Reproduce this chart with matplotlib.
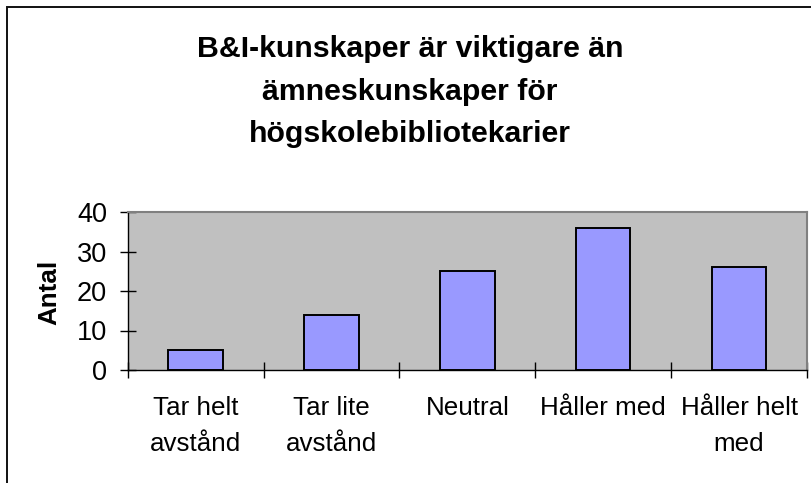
import matplotlib
matplotlib.use("Agg")
import matplotlib.pyplot as plt
from matplotlib.patches import Rectangle

plt.rcParams['font.family'] = ['Liberation Sans', 'DejaVu Sans']

categories = ["Tar helt\navstånd", "Tar lite\navstånd", "Neutral", "Håller med", "Håller helt\nmed"]
counts = [5, 14, 25, 36, 26]
yticks = [0, 10, 20, 30, 40]
title_lines = ["B&I-kunskaper är viktigare än", "ämneskunskaper för", "högskolebibliotekarier"]
ylabel = "Antal"

W, H, DPI = 812, 483, 100
fig = plt.figure(figsize=(W / DPI, H / DPI), dpi=DPI)

# chart frame (runs off the right and bottom of the canvas)
fig.patches.append(Rectangle((7 / W, -0.2), 1.5, 1.2 - 7 / H,
                             transform=fig.transFigure, fill=False,
                             edgecolor='#111111', linewidth=1.4))

ax = fig.add_axes([127.7 / W, (H - 370) / H, 679.3 / W, 158 / H])
ax.set_facecolor('#C0C0C0')

x = list(range(len(categories)))
ax.bar(x, counts, width=0.4, color='#9999FF', edgecolor='black', linewidth=1.4, zorder=3)

ax.set_xlim(-0.5, len(categories) - 0.5)
ax.set_ylim(0, 40)
ax.set_yticks(yticks)
ax.set_yticklabels([str(v) for v in yticks], fontsize=19.5)

# category ticks sit at the boundaries between groups; labels at centres
bounds = [i - 0.5 for i in range(len(categories) + 1)]
ax.set_xticks(bounds)
ax.set_xticklabels([])
ax.set_xticks(x, minor=True)
ax.set_xticklabels(categories, minor=True, fontsize=18.7, linespacing=1.6)
ax.tick_params(axis='x', which='minor', length=0, pad=19.0)
ax.tick_params(axis='x', which='major', direction='inout', length=11.5, width=1.0, color='black')
ax.tick_params(axis='y', direction='inout', length=11.5, width=1.0, color='black', pad=9.1)

for side in ('top', 'right'):
    ax.spines[side].set_color('#808080')
    ax.spines[side].set_linewidth(1.5)
for side in ('left', 'bottom'):
    ax.spines[side].set_color('black')
    ax.spines[side].set_linewidth(1.0)

fig.text(49 / W, 1 - 292 / H, ylabel, rotation=90, ha='center', va='center',
         fontsize=18.7, fontweight='bold')

for line, base in zip(title_lines, [56.7, 100.0, 141.7]):
    fig.text(410 / W, 1 - base / H, line, ha='center', va='baseline',
             fontsize=21.8, fontweight='bold')

fig.savefig("out.png", dpi=DPI)
